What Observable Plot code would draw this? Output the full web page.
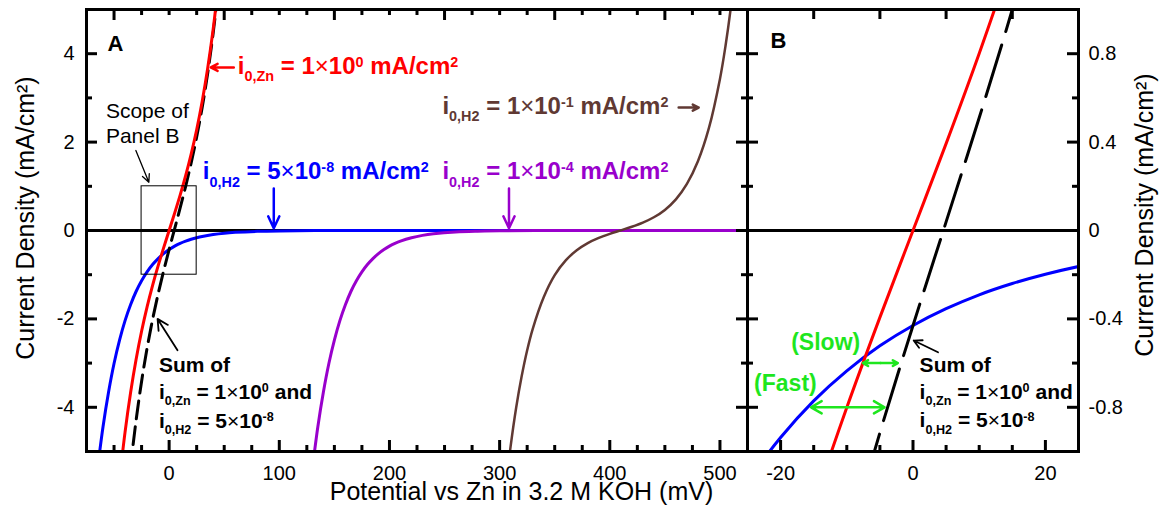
<!DOCTYPE html>
<html>
<head>
<meta charset="utf-8">
<script src="https://cdn.jsdelivr.net/npm/d3@7"></script>
<script src="https://cdn.jsdelivr.net/npm/@observablehq/plot@0.6"></script>
<style>
  html, body { margin: 0; padding: 0; background: white; }
  #wrap { position: relative; width: 1171px; height: 519px; overflow: hidden; }
  #wrap svg { position: absolute; left: 0; top: 0; background: transparent; }
  #wrap text { white-space: pre; }
</style>
</head>
<body>
<div id="wrap"></div>
<script>
// ---------------- data ----------------
// Zn dissolution / deposition, i0,Zn = 1 mA/cm2
const potZn = [-45,-40,-35,-30,-25,-20,-15,-10,-5,0,5,10,15,20,25,30,35,40,45];
const curZn = [-5.628,-4.561,-3.669,-2.918,-2.278,-1.726,-1.240,-0.801,-0.393,0,0.393,0.801,1.240,1.726,2.278,2.918,3.669,4.561,5.628];
// H2 evolution, i0,H2 = 5e-8 mA/cm2
const potH2a = [-65,-60,-55,-50,-45,-40,-35,-30,-25,-20,-15,-10,-5,0,5,10,15,20,25,30,40,50,60,80,100,150,200,300,400,525];
const curH2a = [-5.39,-4.44,-3.66,-3.01,-2.48,-2.04,-1.68,-1.38,-1.137,-0.937,-0.771,-0.635,-0.522,-0.430,-0.354,-0.291,-0.240,-0.198,-0.163,-0.134,-0.091,-0.061,-0.042,-0.019,-0.009,-0.001,0,0,0,0];
// H2 evolution, i0,H2 = 1e-4 mA/cm2
const potH2b = [130,135,140,145,150,155,160,165,170,175,180,185,190,195,200,205,210,220,230,240,260,280,300,350,400,525];
const curH2b = [-5.39,-4.44,-3.66,-3.01,-2.48,-2.04,-1.68,-1.38,-1.137,-0.937,-0.771,-0.635,-0.522,-0.430,-0.354,-0.291,-0.240,-0.163,-0.110,-0.075,-0.034,-0.016,-0.007,-0.001,0,0];
// H2 evolution / oxidation, i0,H2 = 1e-1 mA/cm2
const potH2c = [305,310,315,320,325,330,340,350,360,370,380,390,400,410,420,430,440,450,460,470,480,490,500,505,510,515];
const curH2c = [-5.93,-4.88,-4.01,-3.30,-2.71,-2.23,-1.51,-1.01,-0.677,-0.447,-0.285,-0.168,-0.076,0.004,0.084,0.178,0.299,0.466,0.705,1.055,1.567,2.32,3.43,4.17,5.07,6.16];
// Sum of i0,Zn = 1 and i0,H2 = 5e-8
const potSum = [-40,-35,-30,-25,-20,-15,-10,-5,0,5,10,15,20,25,30,35,40,45];
const curSum = [-6.60,-5.35,-4.30,-3.415,-2.663,-2.011,-1.436,-0.915,-0.430,0.039,0.510,1.000,1.529,2.115,2.784,3.559,4.470,5.553];

// axes
const xDomainA = [-75, 525];
const yDomainA = [-5, 5];
const xDomainB = [-25, 25];
const yDomainB = [-1, 1];
const xMajorA = [0,100,200,300,400,500];
const xMinorA = [-50,-25,25,50,75,125,150,175,225,250,275,325,350,375,425,450,475];
const xTopMajorA = [-50,50,150,250,350,450];
const xTopMinorA = [-25,0,25,75,100,125,175,200,225,275,300,325,375,400,425,475,500];
const yMajorA = [-4,-2,0,2,4];
const yMinorA = [-3,-1,1,3];
const xMajorB = [-20,0,20];
const xMinorB = [-15,-10,-5,5,10,15];
const xTopB = [-15,-5,5,15];
const yMajorB = [-0.8,-0.4,0,0.4,0.8];
const yMinorB = [-0.6,-0.2,0.2,0.6];

const xLabel = "Potential vs Zn in 3.2 M KOH (mV)";
const yLabel = "Current Density (mA/cm²)";

// ---------------- drawing ----------------
const W = 1171, H = 519;
const FONT = "'Liberation Sans', Arial, Helvetica, sans-serif";
const RED = "#ff0000", BLUE = "#0000ff", PURPLE = "#9900cc", BROWN = "#603933", GREEN = "#1ee61e";
const mT = 9, mB = H - 451;
const FH = 451 - 9;
const FWA = 747 - 86, FWB = 1078 - 747;

const toRows = (xs, ys) => xs.map((x, i) => ({x, y: ys[i]}));
const zn = toRows(potZn, curZn);
const h2a = toRows(potH2a, curH2a);
const h2b = toRows(potH2b, curH2b);
const h2c = toRows(potH2c, curH2c);
const sum = toRows(potSum, curSum);

const lineOpts = {x: "x", y: "y", curve: "catmull-rom", clip: true, strokeWidth: 3};

// inward tick marks: length given in pixels, converted to data units of each panel
function tickMarks(xd, yd, fw, xMaj, xMin, xTopMaj, xTopMin, topLen, yMaj, yMin) {
  const ux = (xd[1] - xd[0]) / fw, uy = (yd[1] - yd[0]) / FH;
  const st = {stroke: "black", strokeWidth: 3};
  const bx = (t, len) => Plot.ruleX(t, {x: d => d, y1: yd[0], y2: yd[0] + len * uy, ...st});
  const tx = (t, len) => Plot.ruleX(t, {x: d => d, y1: yd[1] - len * uy, y2: yd[1], ...st});
  const ly = (t, len) => Plot.ruleY(t, {y: d => d, x1: xd[0], x2: xd[0] + len * ux, ...st});
  const ry = (t, len) => Plot.ruleY(t, {y: d => d, x1: xd[1] - len * ux, x2: xd[1], ...st});
  return [
    bx(xMaj, 11), bx(xMin, 6),
    tx(xTopMaj, topLen), tx(xTopMin, 6),
    ly(yMaj, 11), ly(yMin, 6),
    ry(yMaj, 11), ry(yMin, 6)
  ];
}

const BIG = 24;
const lbl = (s, x, y, o = {}) => Plot.text([s], {x, y, text: d => d, textAnchor: "start", lineAnchor: "middle", fontWeight: "bold", fontSize: BIG, ...o});
const arr = (x1, y1, x2, y2, o = {}) => Plot.arrow([0], {x1, y1, x2, y2, strokeWidth: 2.5, headLength: 11, headAngle: 55, ...o});

const plotA = Plot.plot({
  width: W, height: H,
  marginLeft: 86, marginRight: W - 747, marginTop: mT, marginBottom: mB,
  x: {domain: xDomainA},
  y: {domain: yDomainA},
  style: {fontFamily: FONT, fontSize: "20px", background: "transparent", color: "black"},
  marks: [
    Plot.ruleY([0], {stroke: "black", strokeWidth: 2.8}),
    Plot.line(h2a, {...lineOpts, stroke: BLUE}),
    Plot.line(h2b, {...lineOpts, stroke: PURPLE}),
    Plot.line(h2c, {...lineOpts, stroke: BROWN, strokeWidth: 2.5}),
    Plot.line(sum, {...lineOpts, stroke: "black", strokeDasharray: "18,8"}),
    Plot.line(zn, {...lineOpts, stroke: RED}),
    // scope of panel B
    Plot.rect([0], {x1: xDomainB[0], x2: xDomainB[1], y1: yDomainB[0], y2: yDomainB[1], fill: "none", stroke: "black", strokeWidth: 1}),
    Plot.frame({stroke: "black", strokeWidth: 3}),
    ...tickMarks(xDomainA, yDomainA, FWA, xMajorA, xMinorA, xTopMajorA, xTopMinorA, 11, yMajorA, yMinorA),
    Plot.axisX({ticks: xMajorA, tickSize: 0, tickPadding: 14, tickFormat: d => String(d), label: null, fontSize: 20}),
    Plot.axisY({ticks: yMajorA, tickSize: 0, tickPadding: 12, tickFormat: d => String(d), label: null, fontSize: 20}),
    // axis titles
    Plot.text([xLabel], {frameAnchor: "bottom", text: d => d, textAnchor: "middle", lineAnchor: "middle", dx: 104.5, dy: 40, fontSize: 25}),
    Plot.text([yLabel], {frameAnchor: "left", text: d => d, textAnchor: "middle", lineAnchor: "middle", rotate: -90, dx: -61, dy: -12.5, fontSize: 25}),
    // panel letter
    Plot.text(["A"], {frameAnchor: "top-left", text: d => d, textAnchor: "start", lineAnchor: "top", dx: 21, dy: 26, fontSize: 22, fontWeight: "bold"}),
    // annotations
    lbl("i_{0,Zn} = 1×10^{0} mA/cm^{2}", 62.4, 3.71, {fill: RED}),
    arr(58.7, 3.69, 37.8, 3.69, {stroke: RED, headLength: 10}),
    lbl("i_{0,H2} = 5×10^{-8} mA/cm^{2}", 30.6, 1.33, {fill: BLUE}),
    arr(95, 0.95, 95, 0.05, {stroke: BLUE, headLength: 13, headAngle: 50}),
    lbl("i_{0,H2} = 1×10^{-4} mA/cm^{2}", 248.1, 1.33, {fill: PURPLE}),
    arr(308.5, 0.95, 308.5, 0.05, {stroke: PURPLE, headLength: 13, headAngle: 50}),
    lbl("i_{0,H2} = 1×10^{-1} mA/cm^{2}", 248.1, 2.81, {fill: BROWN}),
    arr(462.5, 2.78, 480.7, 2.78, {stroke: BROWN, headLength: 10}),
    lbl("Scope of", -57.4, 2.69, {fontWeight: "normal", fontSize: 21}),
    lbl("Panel B", -57.4, 2.14, {fontWeight: "normal", fontSize: 21}),
    arr(-30.2, 1.81, -18.4, 1.09, {stroke: "black", strokeWidth: 1.3, headLength: 10, headAngle: 50}),
    lbl("Sum of", -9.3, -3.04, {fontSize: 21}),
    lbl("i_{0,Zn} = 1×10^{0} and", -9.3, -3.65, {fontSize: 21}),
    lbl("i_{0,H2} = 5×10^{-8}", -9.3, -4.31, {fontSize: 21}),
    arr(7.6, -2.71, -10.5, -2.0, {stroke: "black", strokeWidth: 1.8, headLength: 10, headAngle: 55})
  ]
});

const plotB = Plot.plot({
  width: W, height: H,
  marginLeft: 747, marginRight: W - 1078, marginTop: mT, marginBottom: mB,
  x: {domain: xDomainB},
  y: {domain: yDomainB},
  style: {fontFamily: FONT, fontSize: "20px", background: "transparent", color: "black"},
  marks: [
    Plot.ruleY([0], {stroke: "black", strokeWidth: 2.8}),
    Plot.line(h2a, {...lineOpts, stroke: BLUE}),
    Plot.line(sum, {...lineOpts, stroke: "black", strokeDasharray: "54,14"}),
    Plot.line(zn, {...lineOpts, stroke: RED}),
    Plot.frame({stroke: "black", strokeWidth: 3}),
    ...tickMarks(xDomainB, yDomainB, FWB, xMajorB, xMinorB, xTopB, [], 10, yMajorB, yMinorB),
    Plot.axisX({ticks: xMajorB, tickSize: 0, tickPadding: 14, tickFormat: d => String(d), label: null, fontSize: 20}),
    Plot.axisY({anchor: "right", ticks: yMajorB, tickSize: 0, tickPadding: 10, tickFormat: d => String(d), label: null, fontSize: 20}),
    Plot.text([yLabel], {frameAnchor: "right", text: d => d, textAnchor: "middle", lineAnchor: "middle", rotate: -90, dx: 66, dy: -15.5, fontSize: 25}),
    Plot.text(["B"], {frameAnchor: "top-left", text: d => d, textAnchor: "start", lineAnchor: "top", dx: 23, dy: 23, fontSize: 22, fontWeight: "bold"}),
    // annotations
    lbl("(Slow)", -18.4, -0.508, {fill: GREEN, fontSize: 23}),
    lbl("(Fast)", -24.0, -0.694, {fill: GREEN, fontSize: 23}),
    Plot.arrow([[-4.9, -7.55], [-4.9, -2.3]], {x1: d => d[0], x2: d => d[1], y1: -0.60, y2: -0.60, stroke: GREEN, strokeWidth: 2.5, headLength: 9, headAngle: 60}),
    Plot.arrow([[-9.85, -15.4], [-9.85, -4.3]], {x1: d => d[0], x2: d => d[1], y1: -0.80, y2: -0.80, stroke: GREEN, strokeWidth: 2.5, headLength: 9, headAngle: 60}),
    lbl("Sum of", 1.0, -0.611, {fontSize: 21}),
    lbl("i_{0,Zn} = 1×10^{0} and", 1.0, -0.731, {fontSize: 21}),
    lbl("i_{0,H2} = 5×10^{-8}", 1.0, -0.860, {fontSize: 21}),
    arr(3.78, -0.551, 0.1, -0.498, {stroke: "black", strokeWidth: 1.8, headLength: 10, headAngle: 55})
  ]
});

const wrap = document.getElementById("wrap");
wrap.appendChild(plotA);
wrap.appendChild(plotB);

// rich text: _{..} subscript, ^{..} superscript, thin ×
function richify(root) {
  root.querySelectorAll("text").forEach(el => {
    const s = el.textContent;
    if (!/[_^]\{|×/.test(s)) return;
    const fs = parseFloat(getComputedStyle(el).fontSize) || 20;
    const parts = [];
    const re = /([_^])\{([^}]*)\}|(×)|([^_^×]+)/g;
    let m;
    while ((m = re.exec(s))) {
      if (m[1]) parts.push({t: m[2], k: m[1] === "_" ? "sub" : "sup"});
      else if (m[3]) parts.push({t: "×", k: "times"});
      else parts.push({t: m[4], k: "n"});
    }
    while (el.firstChild) el.removeChild(el.firstChild);
    let shift = 0;
    for (const p of parts) {
      const ts = document.createElementNS("http://www.w3.org/2000/svg", "tspan");
      let target = 0;
      if (p.k === "sub") { target = 0.3 * fs; ts.setAttribute("font-size", (0.6 * fs).toFixed(1)); }
      else if (p.k === "sup") { target = -0.3 * fs; ts.setAttribute("font-size", (0.6 * fs).toFixed(1)); }
      else if (p.k === "times") { ts.setAttribute("font-weight", "normal"); }
      const dy = target - shift;
      if (dy) ts.setAttribute("dy", dy.toFixed(1));
      shift = target;
      ts.textContent = p.t;
      el.appendChild(ts);
    }
  });
}
richify(plotA);
richify(plotB);
</script>
</body>
</html>
